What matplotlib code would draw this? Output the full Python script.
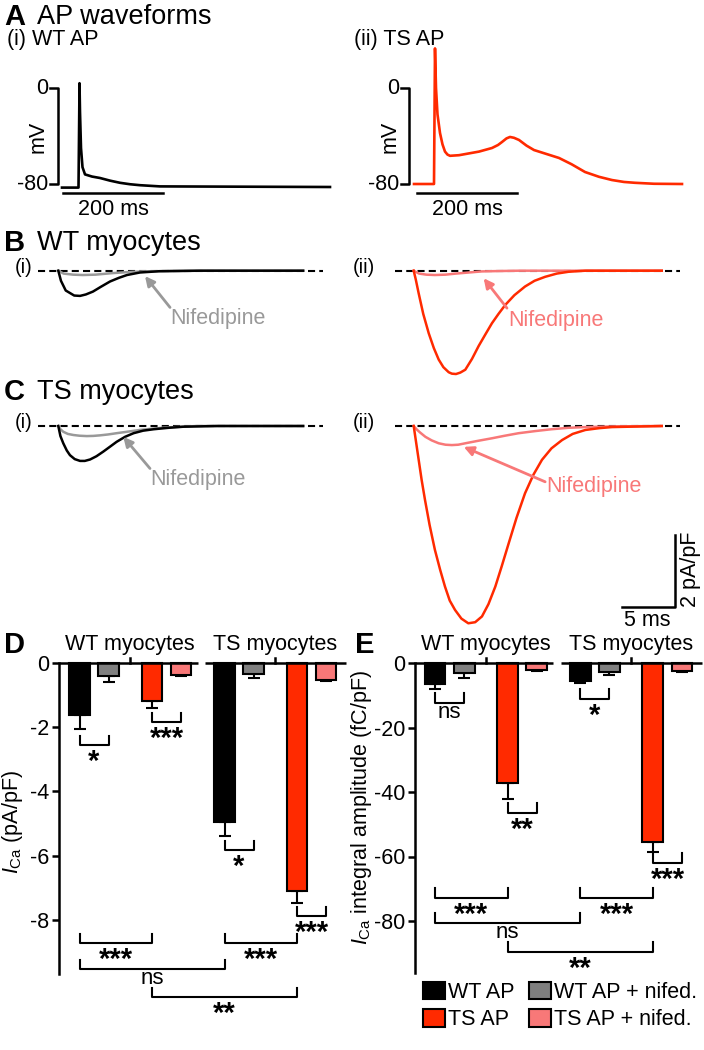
import matplotlib
matplotlib.use("Agg")
import matplotlib.pyplot as plt
from matplotlib.patches import Patch

plt.rcParams['font.family'] = ['Liberation Sans', 'DejaVu Sans']
plt.rcParams['mathtext.fontset'] = 'custom'
plt.rcParams['mathtext.rm'] = 'Liberation Sans'
plt.rcParams['mathtext.it'] = 'Liberation Sans:italic'

W, H = 704, 1050
FS = 15.5

RED = '#ff2a00'
PINK = '#f87878'
GREY_BAR = '#7f7f7f'
GREY_TRACE = '#999999'

# action potential waveforms (ms, mV)
wt_ap_t = [0, 33, 34.5, 35, 36, 38, 41, 46, 60, 76, 96, 116, 136, 156, 196, 536]
wt_ap_v = [-83, -83, -20, 4, -20, -50, -66, -72, -73.8, -75, -77.2, -79, -80.2, -81, -82, -82.5]
ts_ap_t = [0, 40, 42, 44, 47, 52, 57, 62, 67, 72, 90, 130, 156, 168, 176, 185, 192, 200, 210,
           225, 240, 265, 290, 315, 342, 370, 396, 420, 442, 480, 536]
ts_ap_v = [-80, -80, 33, 0, -22, -37.5, -47, -53, -55.5, -56.5, -56, -53, -50, -47.5, -45, -42,
           -40.8, -41.5, -43.3, -48, -51.7, -55, -58.3, -63.5, -70, -74, -76.7, -78.3, -79, -79.8, -80]

# AP-evoked currents (ms, pA/pF)
wt_myo_wtap_t = [0, 0.25, 0.7, 1.5, 2.05, 2.6, 3.27, 4.0, 4.88, 5.7, 6.48, 7.7, 9.5, 13.4, 23.1]
wt_myo_wtap_i = [0, -0.28, -0.55, -0.69, -0.70, -0.66, -0.58, -0.45, -0.30, -0.2, -0.12, -0.05,
                 -0.015, 0, 0]
wt_myo_wtap_nif_t = [0, 0.5, 1.4, 2.3, 3.5, 5, 6.5, 8, 10, 13, 23.1]
wt_myo_wtap_nif_i = [0, -0.08, -0.11, -0.12, -0.11, -0.07, -0.04, -0.02, -0.01, 0, 0]
wt_myo_tsap_t = [0, 0.2, 0.47, 0.9, 1.42, 1.9, 2.36, 2.8, 3.3, 3.6, 3.99, 4.4, 4.87, 5.5, 6.13,
                 6.8, 7.38, 8.0, 8.64, 9.5, 10.5, 11.4, 12.4, 13.5, 14.6, 16.2, 23.4]
wt_myo_tsap_i = [0, -0.25, -0.63, -1.2, -1.74, -2.15, -2.47, -2.68, -2.82, -2.86, -2.87, -2.83,
                 -2.75, -2.45, -2.09, -1.75, -1.46, -1.2, -0.95, -0.68, -0.44, -0.28, -0.17, -0.08,
                 -0.03, 0, 0]
wt_myo_tsap_nif_t = [0, 0.5, 1.2, 2, 3, 4, 5.2, 6.4, 8, 10, 23.4]
wt_myo_tsap_nif_i = [0, -0.08, -0.11, -0.12, -0.11, -0.08, -0.05, -0.02, -0.01, 0, 0]

ts_myo_wtap_t = [0, 0.2, 0.47, 0.8, 1.1, 1.55, 2.05, 2.5, 3.0, 3.6, 4.25, 4.9, 5.5, 6.3, 7.1, 8.0,
                 9.0, 10.4, 11.8, 15, 23.1]
ts_myo_wtap_i = [0, -0.28, -0.48, -0.68, -0.81, -0.92, -0.97, -0.97, -0.93, -0.84, -0.71, -0.57,
                 -0.44, -0.3, -0.2, -0.13, -0.09, -0.05, -0.02, 0, 0]
ts_myo_wtap_nif_t = [0, 0.2, 0.47, 0.9, 1.42, 2.0, 2.68, 3.3, 3.93, 4.7, 5.5, 6.6, 7.7, 9.0, 10.2,
                     11.6, 13.1, 23.1]
ts_myo_wtap_nif_i = [0, -0.09, -0.16, -0.22, -0.25, -0.27, -0.28, -0.275, -0.26, -0.235, -0.2,
                     -0.155, -0.11, -0.07, -0.04, -0.02, 0, 0]
ts_myo_tsap_t = [0, 0.2, 0.47, 0.75, 1.07, 1.5, 2.0, 2.5, 2.95, 3.4, 3.9, 4.5, 5.15, 5.8, 6.44,
                 7.05, 7.7, 8.3, 8.96, 9.7, 10.5, 11.3, 12.1, 13.0, 14.0, 15.0, 16.2, 17.5, 18.7, 23.4]
ts_myo_tsap_i = [0, -0.4, -0.94, -1.5, -2.06, -2.75, -3.44, -4.0, -4.46, -4.85, -5.11, -5.35,
                 -5.48, -5.45, -5.29, -4.95, -4.46, -3.9, -3.26, -2.55, -1.87, -1.35, -0.94, -0.62,
                 -0.39, -0.22, -0.11, -0.06, -0.03, 0]
ts_myo_tsap_nif_t = [0, 0.3, 0.6, 1.1, 1.7, 2.36, 3.0, 3.6, 4.2, 4.87, 6.1, 7.4, 8.6, 9.9, 11.5,
                     13.0, 14.6, 16.2, 19, 23.4]
ts_myo_tsap_nif_i = [0, -0.1, -0.18, -0.3, -0.4, -0.48, -0.52, -0.53, -0.52, -0.48, -0.41, -0.34,
                     -0.27, -0.2, -0.14, -0.09, -0.05, -0.03, -0.01, 0]

# bar data: WT AP, WT AP + nifed., TS AP, TS AP + nifed. in WT then TS myocytes
conditions = ['WT AP', 'WT AP + nifed.', 'TS AP', 'TS AP + nifed.']
groups = ['WT myocytes', 'TS myocytes']
positions = [0, 1, 2.5, 3.5, 5, 6, 7.5, 8.5]
peak_mean = [-1.62, -0.40, -1.18, -0.37, -4.95, -0.33, -7.10, -0.53]
peak_sem = [0.44, 0.20, 0.22, 0.04, 0.45, 0.13, 0.37, 0.04]
integral_mean = [-6.6, -3.0, -37.3, -2.2, -5.6, -2.7, -55.4, -2.6]
integral_sem = [1.6, 1.7, 4.9, 0.3, 0.7, 1.0, 3.1, 0.3]

# significance brackets: (bar a, bar b, level, label)
peak_sig = [(0, 1, -2.55, '*'), (2, 3, -1.84, '***'), (4, 5, -5.83, '*'), (6, 7, -7.88, '***'),
            (0, 2, -8.72, '***'), (4, 6, -8.72, '***'), (0, 4, -9.53, 'ns'), (2, 6, -10.4, '**')]
integral_sig = [(0, 1, -12.4, 'ns'), (2, 3, -46.5, '**'), (4, 5, -11.2, '*'), (6, 7, -62, '***'),
                (0, 2, -72.9, '***'), (4, 6, -72.9, '***'), (0, 4, -80.6, 'ns'), (2, 6, -89.6, '**')]

bar_colors = ['black', GREY_BAR, RED, PINK] * 2

fig = plt.figure(figsize=(W / 100, H / 100), dpi=100)


def px_axes(l, t, r, b, x0, y0, sx, sy):
    # axes placed by pixel box, data origin at pixel (x0, y0), sx/sy pixels per unit
    ax = fig.add_axes([l / W, 1 - b / H, (r - l) / W, (b - t) / H])
    ax.set_xlim((l - x0) / sx, (r - x0) / sx)
    ax.set_ylim((y0 - b) / sy, (y0 - t) / sy)
    ax.axis('off')
    return ax


def ftext(x, y, s, **kw):
    kw.setdefault('fontsize', FS)
    kw.setdefault('va', 'center')
    fig.text(x / W, 1 - y / H, s, **kw)


def title(x, y, letter, s):
    ftext(x, y, letter, fontsize=21, fontweight='bold')
    ftext(x + 33, y, s, fontsize=19.5)


# ---------------- A: AP waveforms
title(4, 17, 'A', 'AP waveforms')
ftext(7, 39, '(i) WT AP')
ftext(354, 39, '(ii) TS AP')

for left, t, v, col, bar_x, lab_x, sb0 in [(0, wt_ap_t, wt_ap_v, 'black', -8, -28, 2),
                                          (352, ts_ap_t, ts_ap_v, RED, -10, -30, 6)]:
    x0 = 62 if left == 0 else 414
    ax = px_axes(left, 30, left + 352, 225, x0, 88, 0.5, 1.2)
    ax.plot(t, v, color=col, lw=1.9, solid_joinstyle='round')
    ax.plot([bar_x - 16, bar_x, bar_x, bar_x - 16], [0, 0, -80, -80], color='black', lw=1.8)
    ax.text(lab_x, 0, '0', ha='right', va='center', fontsize=FS)
    ax.text(lab_x, -80, '-80', ha='right', va='center', fontsize=FS)
    ax.text(-48, -41, 'mV', rotation=90, ha='center', va='center', fontsize=FS)
    ax.plot([sb0, sb0 + 200], [-87.5, -87.5], color='black', lw=1.8)
    ax.text(sb0 + 100, -101.5, '200 ms', ha='center', va='center', fontsize=FS)

# ---------------- B / C: currents
title(4, 243, 'B', 'WT myocytes')
title(4, 392, 'C', 'TS myocytes')

SX, SY = 10.6, 36.0
DASH = (0, (3.4, 2))

panels = [
    (0, 250, 340, 58.3, 270.7, wt_myo_wtap_t, wt_myo_wtap_i, wt_myo_wtap_nif_t, wt_myo_wtap_nif_i,
     'black', GREY_TRACE, (8.18, -0.15), (10.54, -1.02), (10.6, -1.32), '(i)'),
    (352, 250, 390, 413.7, 270.7, wt_myo_tsap_t, wt_myo_tsap_i, wt_myo_tsap_nif_t, wt_myo_tsap_nif_i,
     RED, PINK, (6.6, -0.21), (8.8, -1.04), (8.96, -1.39), '(ii)'),
    (0, 410, 500, 58.3, 426, ts_myo_wtap_t, ts_myo_wtap_i, ts_myo_wtap_nif_t, ts_myo_wtap_nif_i,
     'black', GREY_TRACE, (6.13, -0.30), (8.65, -1.18), (8.65, -1.5), '(i)'),
    (352, 410, 640, 413.7, 426, ts_myo_tsap_t, ts_myo_tsap_i, ts_myo_tsap_nif_t, ts_myo_tsap_nif_i,
     RED, PINK, (4.72, -0.58), (12.4, -1.55), (12.5, -1.69), '(ii)'),
]

for (left, top, bottom, x0, y0, t, i, tn, inf, col, ncol, head, tail, txt, lab) in panels:
    ax = px_axes(left, top, left + 352, bottom, x0, y0, SX, SY)
    dash_start = (left + 38.3 - x0) / SX if left == 0 else (395.3 - x0) / SX
    dash_end = (323 - x0) / SX if left == 0 else (680.3 - x0) / SX
    ax.plot([dash_start, dash_end], [0, 0], color='black', lw=1.5, ls=DASH)
    ax.plot(tn, inf, color=ncol, lw=1.8, solid_joinstyle='round')
    ax.plot(t, i, color=col, lw=1.8, solid_joinstyle='round')
    ax.annotate('', xy=head, xytext=tail,
                arrowprops=dict(arrowstyle='-|>', color=ncol, lw=2, mutation_scale=14,
                                shrinkA=0, shrinkB=0))
    ax.text(txt[0], txt[1], 'Nifedipine', color=ncol, ha='left', va='center', fontsize=FS)
    lab_x = (33 - x0) / SX if left == 0 else (375 - x0) / SX
    ax.text(lab_x, 0.1, lab, ha='right', va='center', fontsize=FS - 1)
    if bottom == 640:
        # scale bars
        ax.plot([19.65, 24.65, 24.65], [-5.03, -5.03, -3.03], color='black', lw=1.8)
        ax.text(26.1, -3.97, '2 pA/pF', rotation=90, ha='center', va='center', fontsize=FS)
        ax.text(22.0, -5.4, '5 ms', ha='center', va='center', fontsize=FS)

# ---------------- D / E: bar charts
title(4, 645, 'D', '')
ftext(355, 645, 'E', fontsize=21, fontweight='bold')


def bar_panel(ax, means, sems, sig, tick_vals, ybottom, tick_h, star_off):
    ax.axis('on')
    for s in ['top', 'right', 'bottom']:
        ax.spines[s].set_visible(False)
    ax.spines['left'].set_linewidth(1.8)
    ax.spines['left'].set_bounds(ybottom, 0)
    ax.set_xticks([])
    ax.set_yticks(tick_vals)
    ax.set_yticklabels([str(v) for v in tick_vals])
    ax.tick_params(axis='y', direction='out', length=5, width=1.8, labelsize=FS, pad=2)
    ax.bar(positions, means, width=0.72, color=bar_colors, edgecolor='black', linewidth=1.5, zorder=2)
    ax.errorbar(positions, means, yerr=[sems, [0] * len(sems)], fmt='none', ecolor='black',
                elinewidth=1.5, capsize=4.5, capthick=1.5, zorder=1)
    x_left = ax.get_xlim()[0]
    ax.plot([x_left, 4.07], [0, 0], color='black', lw=1.8, clip_on=False, solid_capstyle='butt', zorder=3)
    ax.plot([4.33, 9.2], [0, 0], color='black', lw=1.8, clip_on=False, solid_capstyle='butt', zorder=3)
    for gx, g in zip([1.75, 6.75], groups):
        ax.plot([gx, gx], [0, tick_h * 0.55], color='black', lw=1.8, clip_on=False)
        ax.annotate(g, xy=(gx, 0), xytext=(0, 13), textcoords='offset points',
                    ha='center', va='center', fontsize=FS)
    for a, b, lvl, lab in sig:
        xa, xb = positions[a], positions[b]
        ax.plot([xa, xa, xb, xb], [lvl + tick_h, lvl, lvl, lvl + tick_h], color='black', lw=1.5,
                clip_on=False)
        if lab == 'ns':
            ax.annotate(lab, xy=((xa + xb) / 2, lvl), xytext=(0, -7), textcoords='offset points',
                        ha='center', va='center', fontsize=FS + 0.5)
        else:
            ax.annotate(lab, xy=((xa + xb) / 2, lvl), xytext=(0, -star_off), textcoords='offset points',
                        ha='center', va='center', fontsize=21, fontweight='bold')


axD = px_axes(59, 640, 352, 1025, 79.5, 663, 29.0, 32.1)
bar_panel(axD, peak_mean, peak_sem, peak_sig, [0, -2, -4, -6, -8], -9.7, 0.28, 12)
ftext(13, 822, r'$I_{\mathrm{Ca}}$ (pA/pF)', rotation=90, ha='center')

axE = px_axes(415, 640, 704, 1045, 435, 663, 29.06, 3.225)
bar_panel(axE, integral_mean, integral_sem, integral_sig, [0, -20, -40, -60, -80], -96, 3.0, 12)
ftext(362, 808, r'$I_{\mathrm{Ca}}$ integral amplitude (fC/pF)', rotation=90, ha='center')

handles = [Patch(facecolor=c, edgecolor='black', linewidth=1.5, label=l)
           for c, l in zip(['black', RED, GREY_BAR, PINK],
                           [conditions[0], conditions[2], conditions[1], conditions[3]])]
fig.legend(handles=handles, ncol=2, loc='upper left', bbox_to_anchor=(423 / W, 1 - 982 / H),
           frameon=False, fontsize=FS, borderpad=0, borderaxespad=0, handlelength=1.02,
           handleheight=0.84, handletextpad=0.15, columnspacing=0.65, labelspacing=0.3)

fig.savefig('out.png', dpi=100)
